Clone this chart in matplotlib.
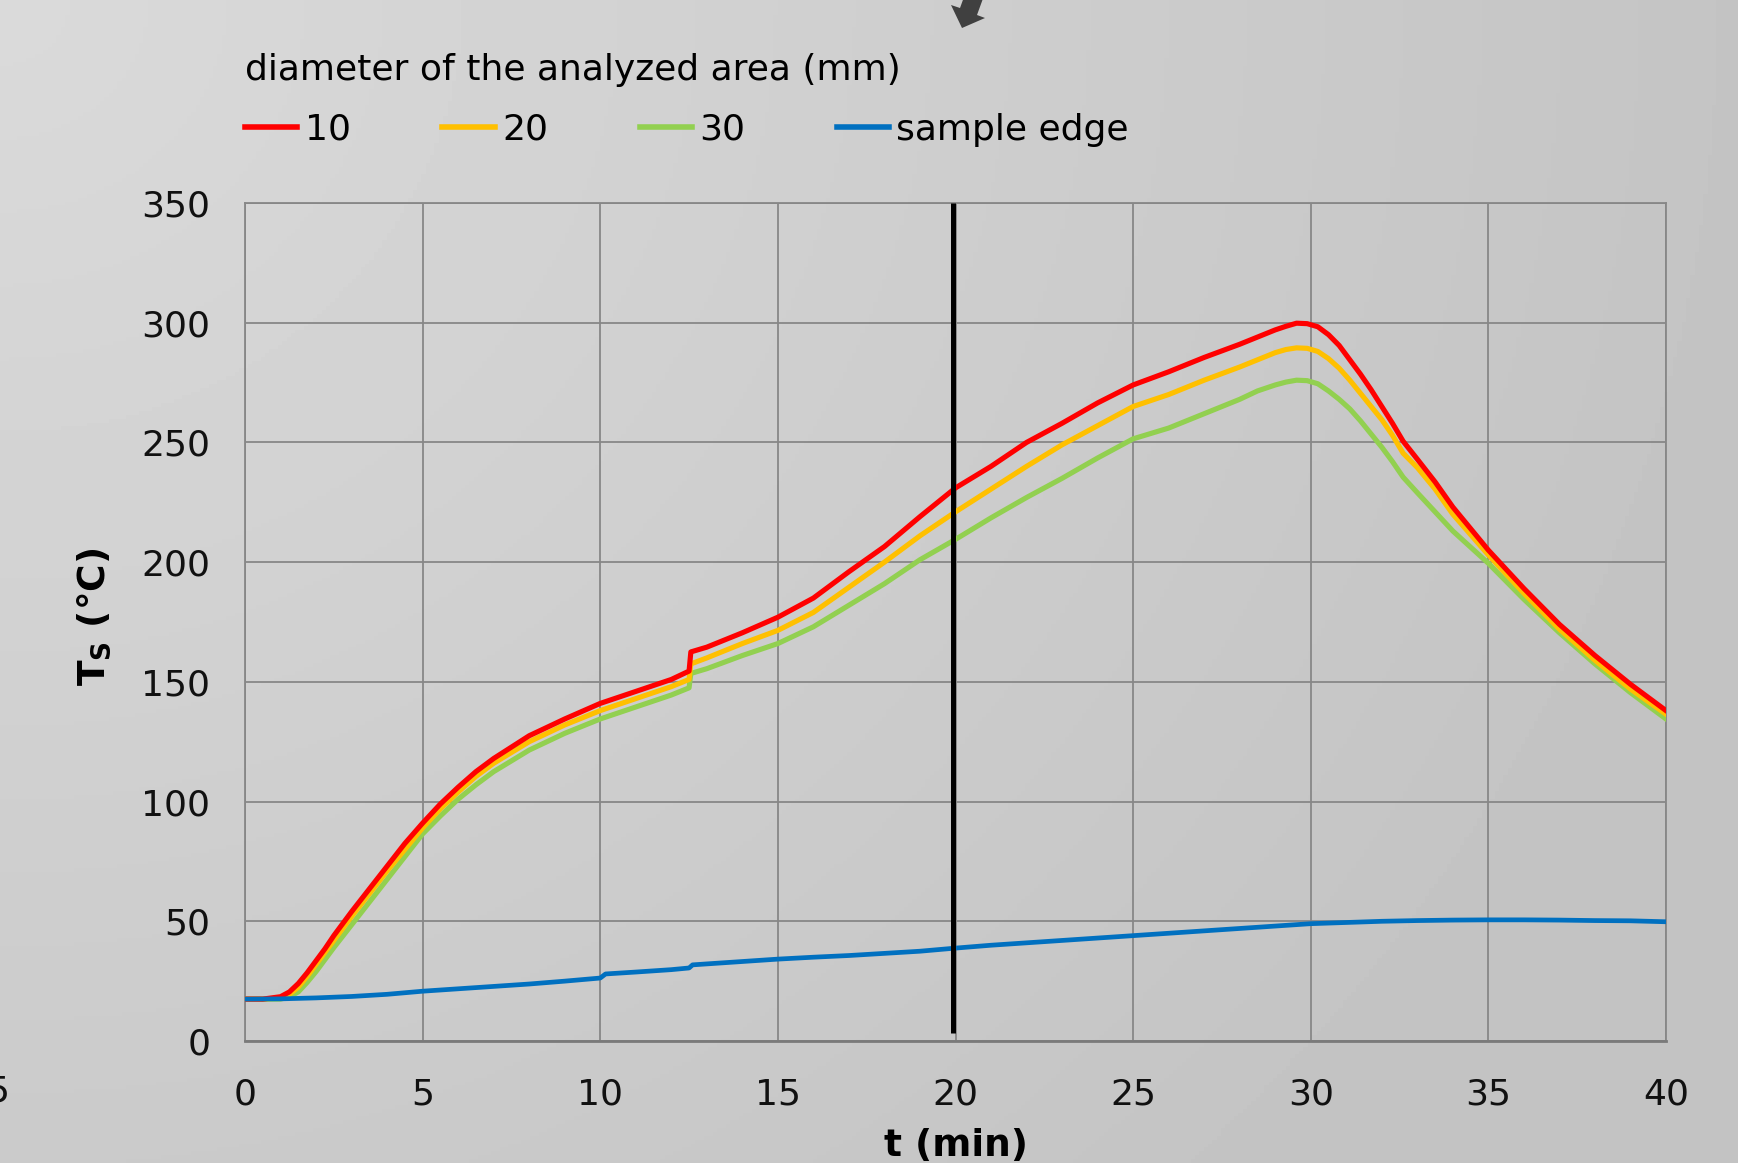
import numpy as np
import matplotlib
matplotlib.use("Agg")
import matplotlib.pyplot as plt
from matplotlib.patches import Polygon

plt.rcParams['font.family'] = ['DejaVu Sans']
plt.rcParams['mathtext.default'] = 'bf'

# ---------------- data ----------------
t_main = [0, 0.5, 1, 1.25, 1.5, 1.75, 2, 2.25, 2.5, 3, 3.5, 4, 4.5, 5, 5.5, 6, 6.5, 7, 8, 9, 10, 11, 12,
          12.5, 12.55, 13, 14, 15, 16, 17, 18, 19, 20, 21, 22, 23, 24, 25, 26, 27, 28, 28.5, 29, 29.3,
          29.6, 29.9, 30.2, 30.5, 30.8, 31.1, 31.4, 31.7, 32, 32.3, 32.6, 33, 33.5, 34, 35, 36, 37, 38, 39, 40]

ts_10mm = [17.5, 17.5, 18.5, 20.5, 24, 28.5, 33.5, 38.5, 44, 54, 63.5, 73, 82.5, 91, 99, 106, 112.5, 118, 127.5, 134.5, 141, 146, 151,
           154.5, 162.5, 164.5, 170.5, 177, 185, 196, 206.5, 219, 231, 240, 250, 258, 266.5, 274, 279.5, 285.5, 291, 294, 297, 298.5,
           299.8, 299.6, 298.3, 295, 290.5, 284.5, 278.5, 272, 265, 258, 250.5, 243, 233.5, 223, 205, 189, 174, 161, 149, 138]

ts_20mm = [17.5, 17.5, 18, 19.5, 22.5, 27, 32, 37, 42, 52, 61.5, 71, 80, 89, 97, 104, 110.5, 116, 125, 132, 138, 143, 148,
           151, 157.5, 160, 166, 171.5, 179, 189.5, 200, 211, 221, 230.5, 240, 249, 257, 265, 270, 276, 281.5, 284.5, 287.5, 288.8,
           289.5, 289.3, 288, 285, 281, 276, 270.5, 265, 259.5, 253, 245.5, 239.5, 230.5, 220, 203, 187, 172, 159, 147, 136.5]

ts_30mm = [17.5, 17.5, 17.5, 18.5, 20.5, 24.5, 29, 34, 39, 48.5, 58, 67.5, 77, 86.5, 94, 101, 107, 112.5, 121.5, 128.5, 134.5, 139.5, 144.5,
           147.5, 153.5, 155.5, 161, 166, 173, 182, 191, 201, 209.5, 218.5, 227, 235, 243.5, 251.5, 256, 262, 268, 271.5, 274, 275.2,
           276, 275.8, 274.5, 271.5, 268, 264, 259, 253.5, 248, 242, 235.5, 229, 221, 213, 199.5, 184.5, 170.5, 157.5, 145.5, 134.5]

t_edge = [0, 1, 2, 3, 4, 5, 6, 7, 8, 9, 10, 10.15, 11, 12, 12.5, 12.6, 13, 14, 15, 16, 17, 18, 19, 20,
          21, 22, 23, 24, 25, 26, 27, 28, 29, 30, 31, 32, 33, 34, 35, 36, 37, 38, 39, 40]
ts_edge = [17.5, 17.6, 18, 18.6, 19.5, 20.8, 21.8, 22.8, 23.8, 25, 26.3, 28, 28.8, 29.8, 30.5, 31.8, 32.2, 33.2, 34.2, 35,
           35.7, 36.6, 37.5, 38.8, 40, 41, 42, 43, 44, 45, 46, 47, 48, 49, 49.5, 50, 50.3, 50.5, 50.6, 50.6,
           50.5, 50.3, 50.2, 49.8]

series_labels = ['10', '20', '30', 'sample edge']
series_colors = ['#FF0000', '#FFC000', '#92D050', '#0070C0']
legend_title = 'diameter of the analyzed area (mm)'
x_ticks = list(range(0, 41, 5))
y_ticks = list(range(0, 351, 50))
marker_t = 19.93

W, H = 1738, 1163
fig = plt.figure(figsize=(W / 100, H / 100), dpi=100)

# background gradient
bg = fig.add_axes([0, 0, 1, 1], zorder=0)
xx, yy = np.meshgrid(np.linspace(0, 1, 400), np.linspace(0, 1, 300))
d = np.sqrt(xx ** 2 + (yy / 1.4) ** 2)
val = (196 + 22 * np.clip(1 - d, 0, 1)) / 255.0
bg.imshow(val, extent=[0, 1, 0, 1], origin='upper', aspect='auto', cmap='gray', vmin=0, vmax=1)
bg.axis('off')

ax = fig.add_axes([245 / W, 1 - 1041 / H, 1421 / W, 838 / H], zorder=1)
ax.patch.set_alpha(0)

l_edge, = ax.plot(t_edge, ts_edge, color=series_colors[3], lw=3.4, zorder=6, label=series_labels[3])
l30, = ax.plot(t_main, ts_30mm, color=series_colors[2], lw=3.7, zorder=3, label=series_labels[2])
l20, = ax.plot(t_main, ts_20mm, color=series_colors[1], lw=3.7, zorder=4, label=series_labels[1])
l10, = ax.plot(t_main, ts_10mm, color=series_colors[0], lw=3.7, zorder=5, label=series_labels[0])

ax.plot([marker_t, marker_t], [3.3, 350], color='black', lw=3.6, zorder=7, solid_capstyle='butt')

ax.set_xlim(0, 40)
ax.set_ylim(0, 350)
ax.set_xticks(x_ticks)
ax.set_yticks(y_ticks)
ax.grid(True, color='#878787', lw=1.3)
ax.set_axisbelow(True)
for s in ['left', 'right', 'top']:
    ax.spines[s].set_color('#878787')
    ax.spines[s].set_linewidth(1.3)
ax.spines['bottom'].set_color('#7a7a7a')
ax.spines['bottom'].set_linewidth(2.0)
ax.tick_params(axis='both', length=0, labelsize=26, labelcolor='#111111')
ax.tick_params(axis='x', pad=26)
ax.tick_params(axis='y', pad=25)

ax.set_xlabel('t (min)', fontsize=27, fontweight='bold')
ax.xaxis.set_label_coords(0.5, -0.1038)
ax.xaxis.label.set_va('top')
ax.set_ylabel('T$_S$ (°C)', fontsize=27, fontweight='bold')
ax.yaxis.set_label_coords(-0.106, 0.506)
ax.yaxis.label.set_va('center')

leg = ax.legend(handles=[l10, l20, l30, l_edge], labels=series_labels, ncol=4,
                loc='upper left', bbox_to_anchor=(245 / W, 1 - 53 / H), bbox_transform=fig.transFigure,
                frameon=False, title=legend_title, alignment='left', fontsize=26, title_fontsize=26,
                handlelength=1.45, handletextpad=0.2, columnspacing=2.54, labelspacing=0.72,
                borderpad=0, borderaxespad=0)
for lh in leg.get_lines():
    lh.set_linewidth(4)

# partial arrow at top (decoration)
arrow_px = [(962, 28), (951, 5), (960, 8), (972, -25), (989, -18), (977, 15), (985, 18)]
arrow = Polygon([(x / W, 1 - y / H) for x, y in arrow_px], closed=True, transform=fig.transFigure,
                facecolor='#404040', edgecolor='none', zorder=10)
fig.patches.append(arrow)

# cut-off tick label at left edge (as in the reference)
fig.text(9 / W, 1 - 1092 / H, '5', ha='right', va='center', fontsize=26, color='#111111')

fig.savefig('out.png', dpi=100)
